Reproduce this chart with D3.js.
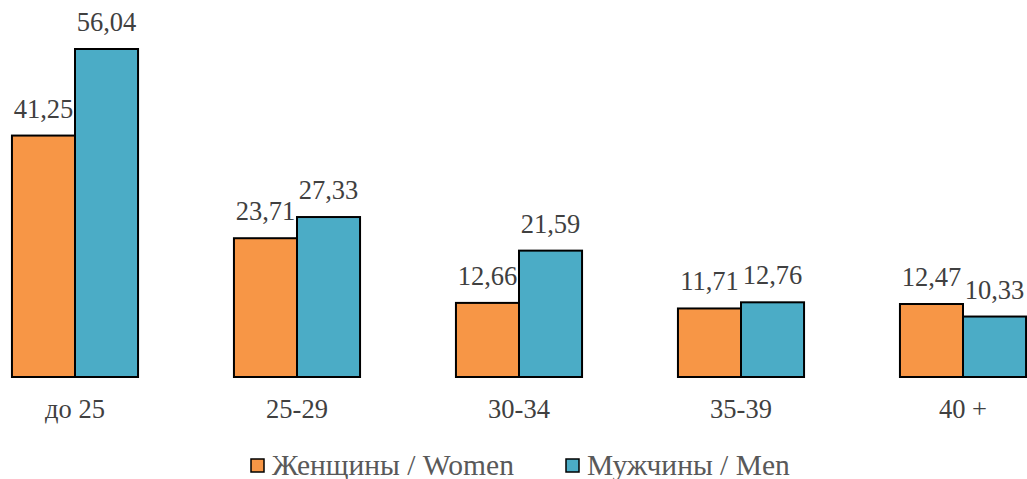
<!DOCTYPE html>
<html>
<head>
<meta charset="utf-8">
<script src="https://cdn.jsdelivr.net/npm/d3@7"></script>
</head>
<body style="margin:0">
<svg id="chart" width="1027" height="479" font-family="Liberation Serif, Times New Roman, serif"></svg>
<script>
// Data
var categories = ["до 25", "25-29", "30-34", "35-39", "40 +"];
var women = [41.25, 23.71, 12.66, 11.71, 12.47];
var men = [56.04, 27.33, 21.59, 12.76, 10.33];
var seriesNames = ["Женщины / Women", "Мужчины / Men"];
var seriesColors = ["#F79646", "#4BACC6"];

var baseY = 377;
var svg = d3.select("#chart");

// x: groups spaced 222px, first group centred at 75
var x = d3.scaleBand().domain(categories).range([-36, 1074]).paddingInner(0.432).paddingOuter(0.216);
var x1 = d3.scaleBand().domain([0, 1]).range([0, x.bandwidth()]);
var y = d3.scaleLinear().domain([0, 56.04]).range([baseY, 49]);

var rows = categories.map(function (c, i) { return { cat: c, vals: [women[i], men[i]] }; });

var g = svg.selectAll("g.grp").data(rows).enter().append("g")
    .attr("class", "grp")
    .attr("transform", function (d) { return "translate(" + x(d.cat) + ",0)"; });

g.selectAll("rect").data(function (d) { return d.vals; }).enter().append("rect")
    .attr("x", function (d, i) { return x1(i); })
    .attr("y", function (d) { return y(d); })
    .attr("width", x1.bandwidth())
    .attr("height", function (d) { return baseY - y(d); })
    .attr("fill", function (d, i) { return seriesColors[i]; })
    .attr("stroke", "#000")
    .attr("stroke-width", 2);

g.selectAll("text.val").data(function (d) { return d.vals; }).enter().append("text")
    .attr("class", "val")
    .attr("x", function (d, i) { return x1(i) + x1.bandwidth() / 2; })
    .attr("y", function (d) { return y(d) - 18; })
    .attr("text-anchor", "middle")
    .attr("font-family", "Liberation Serif")
    .attr("font-size", 26.5)
    .attr("fill", "#404040")
    .text(function (d) { return d3.format(".2f")(d).replace(".", ","); });

// category labels
svg.selectAll("text.cat").data(categories).enter().append("text")
    .attr("class", "cat")
    .attr("x", function (d) { return x(d) + x.bandwidth() / 2; })
    .attr("y", 418)
    .attr("text-anchor", "middle")
    .attr("font-family", "Liberation Serif")
    .attr("font-size", 26.5)
    .attr("fill", "#404040")
    .text(function (d) { return d; });

// legend
var legX = [250, 565];
var leg = svg.selectAll("g.leg").data(seriesNames).enter().append("g")
    .attr("class", "leg")
    .attr("transform", function (d, i) { return "translate(" + legX[i] + ",458)"; });
leg.append("rect")
    .attr("x", 1).attr("y", 1)
    .attr("width", 13).attr("height", 13)
    .attr("fill", function (d, i) { return seriesColors[i]; })
    .attr("stroke", "#000").attr("stroke-width", 1.5);
leg.append("text")
    .attr("x", 22).attr("y", 17)
    .attr("font-family", "Liberation Serif")
    .attr("font-size", 29.5)
    .attr("fill", "#595959")
    .text(function (d) { return d; });
</script>
</body>
</html>
